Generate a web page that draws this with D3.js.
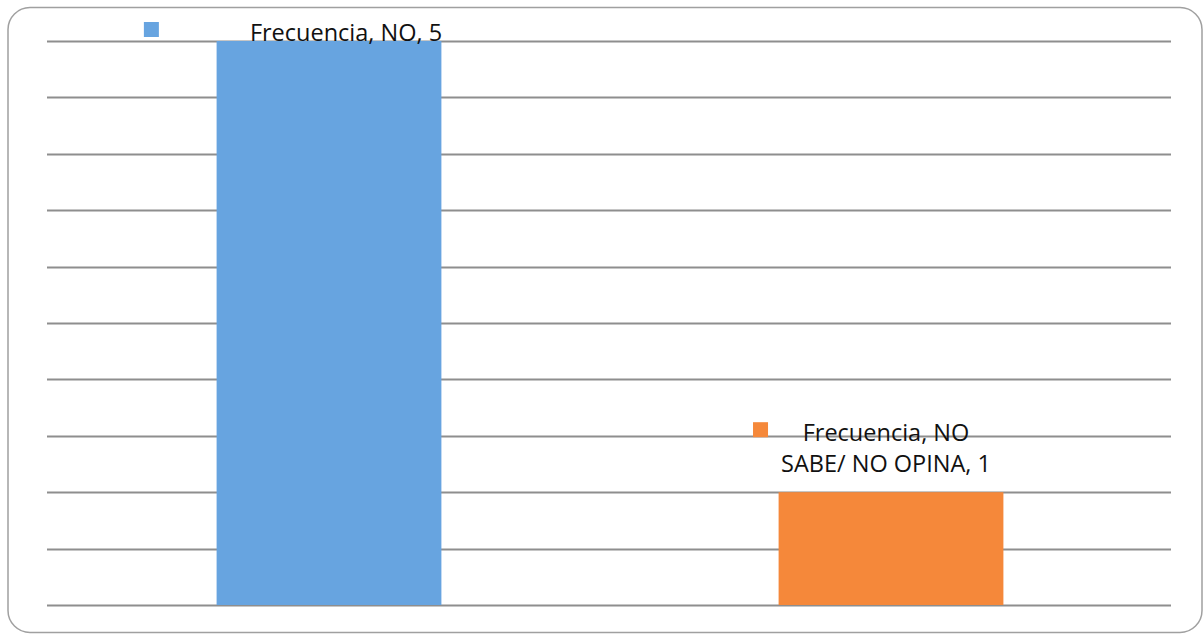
<!DOCTYPE html>
<html>
<head>
<meta charset="utf-8">
<script src="https://cdn.jsdelivr.net/npm/d3@7"></script>
<style>
  body { margin: 0; background: #fff; }
  svg { display: block; }
</style>
</head>
<body>
<div id="chart"></div>
<script>
// data
const seriesName = "Frecuencia";
const categories = ["NO", "NO SABE/ NO OPINA"];
const values = [5, 1];
const colors = ["#67a4e0", "#f5883a"];
// label lines as shown on the chart
const labelLines = [
  ["Frecuencia, NO, 5"],
  ["Frecuencia, NO", "SABE/ NO OPINA, 1"]
];

const width = 1203;
const height = 636;
const margin = { top: 41, right: 32, bottom: 31, left: 47 };

const svg = d3.select("#chart")
  .append("svg")
  .attr("width", width)
  .attr("height", height);

// outer frame (runs slightly past the right edge, as in the original)
svg.append("rect")
  .attr("x", 8)
  .attr("y", 7.5)
  .attr("width", 1194)
  .attr("height", 625)
  .attr("rx", 22)
  .attr("ry", 22)
  .attr("fill", "#fff")
  .attr("stroke", "#a0a0a0")
  .attr("stroke-width", 1.5);

var x = d3.scaleBand()
  .domain(categories)
  .range([margin.left + 1, width - margin.right + 1])
  .paddingInner(0.6)
  .paddingOuter(0.3);

var y = d3.scaleLinear()
  .domain([0, 5])
  .range([height - margin.bottom, margin.top]);

// gridlines
svg.selectAll("line.grid")
  .data(y.ticks(10))
  .enter()
  .append("line")
  .attr("class", "grid")
  .attr("x1", margin.left)
  .attr("x2", width - margin.right)
  .attr("y1", function (d) { return Math.round(y(d)) + 0.5; })
  .attr("y2", function (d) { return Math.round(y(d)) + 0.5; })
  .attr("stroke", "#8e8e8e")
  .attr("stroke-width", 2);

// bars
svg.selectAll("rect.bar")
  .data(values)
  .enter()
  .append("rect")
  .attr("class", "bar")
  .attr("x", function (d, i) { return x(categories[i]); })
  .attr("y", function (d) { return y(d); })
  .attr("width", x.bandwidth())
  .attr("height", function (d) { return y(0) - y(d); })
  .attr("fill", function (d, i) { return colors[i]; });

// data labels with legend key
var labelDx = [17, -5];     // text centre relative to bar centre
var labelDy = [0, 20];      // gap between last baseline and bar top
var keyGap = [91, 13];      // space between key and text block
var lineH = 31;

values.forEach(function (v, i) {
  var cx = x(categories[i]) + x.bandwidth() / 2 + labelDx[i];
  var lines = labelLines[i];
  var baseY = y(v) - labelDy[i] - (lines.length - 1) * lineH;
  var g = svg.append("g");
  var t = g.append("text")
    .attr("text-anchor", "middle")
    .style("font-family", "'Open Sans', 'Noto Sans', sans-serif")
    .style("font-size", "23.5px")
    .attr("fill", "#111");
  lines.forEach(function (s, j) {
    t.append("tspan")
      .attr("x", cx)
      .attr("y", baseY + j * lineH)
      .text(s);
  });
  var bb = t.node().getBBox();
  g.append("rect")
    .attr("x", bb.x - keyGap[i] - 15)
    .attr("y", baseY - 19)
    .attr("width", 15)
    .attr("height", 15)
    .attr("fill", colors[i]);
});
</script>
</body>
</html>
